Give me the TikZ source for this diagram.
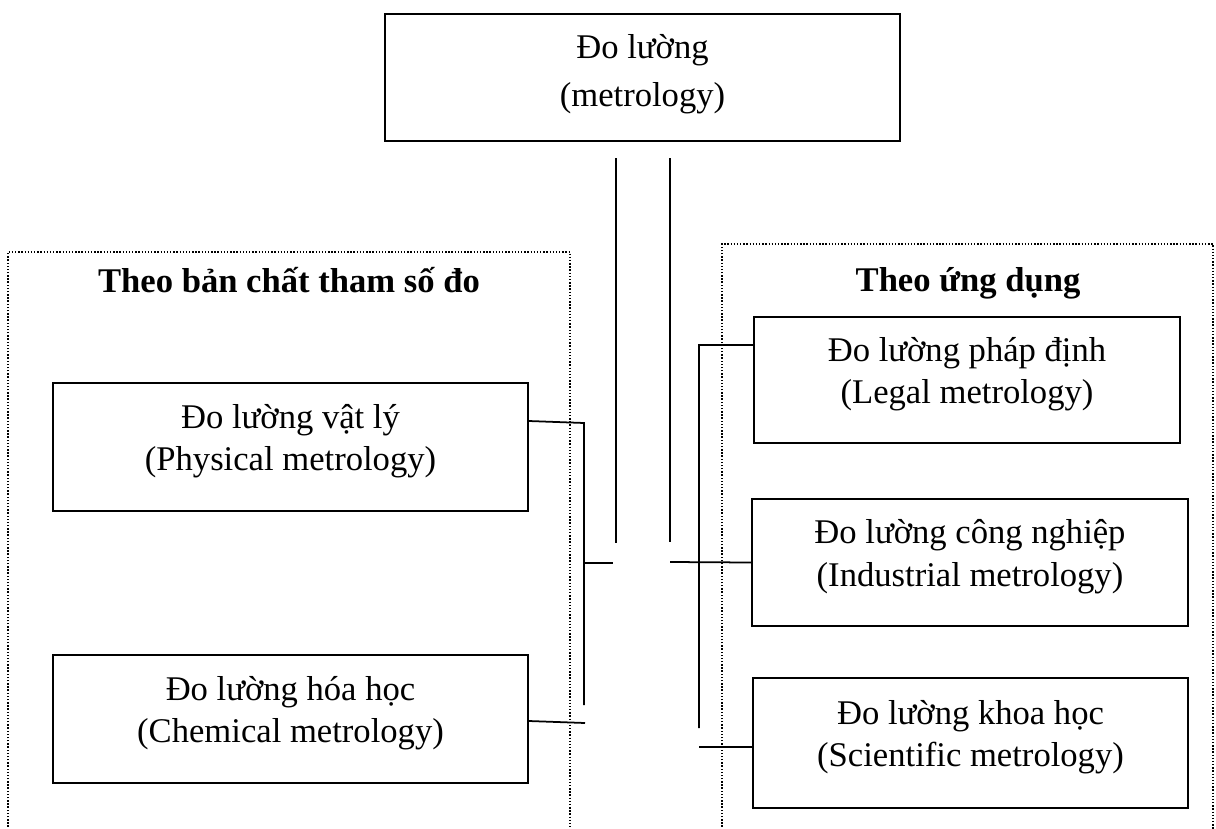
\documentclass[tikz,border=0pt]{standalone}
\usepackage{fontspec}
\setmainfont{Liberation Serif}
\usepackage{tikz}

\newcommand{\diagfont}{\fontsize{19.7}{24.2}\selectfont}

\tikzset{
  box/.style={draw,line width=1pt,inner sep=0pt},
  boxtext/.style={align=center,font=\diagfont,inner sep=0pt,yshift=0.12cm},
  heading/.style={anchor=base,font=\diagfont\bfseries,inner sep=0pt},
  frame/.style={densely dotted,line width=0.8pt},
  link/.style={line width=1pt}
}

\begin{document}
\begin{tikzpicture}[x=0.02cm,y=-0.02cm]

      \useasboundingbox (0,0) rectangle (1216,828);
      \clip (0,0) rectangle (1216,828);

      % dotted groups
      \draw[frame] (8,830) |- (570,252) -- (570,830);
      \draw[frame] (722,830) |- (1213,244) -- (1213,830);

      \node[heading] (ltitle) at (289,292) {Theo bản chất tham số đo};
      \node[heading] (rtitle) at (968,291) {Theo ứng dụng};

      % boxes
      \node[box,minimum width=10.3cm,minimum height=2.54cm,
        label={[boxtext,yshift=-0.06cm]center:Đo lường\\[3pt](metrology)}] (top) at (642.5,77.5) {};
      \node[box,minimum width=9.5cm,minimum height=2.56cm,
        label={[boxtext]center:Đo lường vật lý\\(Physical metrology)}] (lb1) at (290.5,447) {};
      \node[box,minimum width=9.5cm,minimum height=2.56cm,
        label={[boxtext]center:Đo lường hóa học\\(Chemical metrology)}] (lb2) at (290.5,719) {};
      \node[box,minimum width=8.52cm,minimum height=2.52cm,
        label={[boxtext]center:Đo lường pháp định\\(Legal metrology)}] (rb1) at (967,380) {};
      \node[box,minimum width=8.72cm,minimum height=2.54cm,
        label={[boxtext]center:Đo lường công nghiệp\\(Industrial metrology)}] (rb2) at (970,562.5) {};
      \node[box,minimum width=8.7cm,minimum height=2.6cm,
        label={[boxtext]center:Đo lường khoa học\\(Scientific metrology)}] (rb3) at (970.5,743) {};

      % free ends of the lines
      \coordinate (s1) at (616,158);
      \coordinate (s1e) at (616,543);
      \coordinate (s2) at (670,158);
      \coordinate (s2e) at (670,542);
      \coordinate (lbus) at (584,423);
      \coordinate (lbuse) at (584,705);
      \coordinate (lm) at (584,563);
      \coordinate (lme) at (613,563);
      \coordinate (l2e) at (585,723);
      \coordinate (rbus) at (699,345);
      \coordinate (rbuse) at (699,728);
      \coordinate (rm) at (670,562);
      \coordinate (r3) at (699,747);

      \begin{scope}[link]
        \draw (s1) -- (s1e);
        \draw (s2) -- (s2e);
        \draw ([yshift=0.52cm]lb1.east) -- (lbus) -- (lbuse);
        \draw (lm) -- (lme);
        \draw ([yshift=-0.04cm]lb2.east) -- (l2e);
        \draw ([yshift=0.7cm]rb1.west) -- (rbus) -- (rbuse);
        \draw (rm) -- (rb2.west);
        \draw (r3) -- ([yshift=-0.08cm]rb3.west);
      \end{scope}

    \end{tikzpicture}
\end{document}
